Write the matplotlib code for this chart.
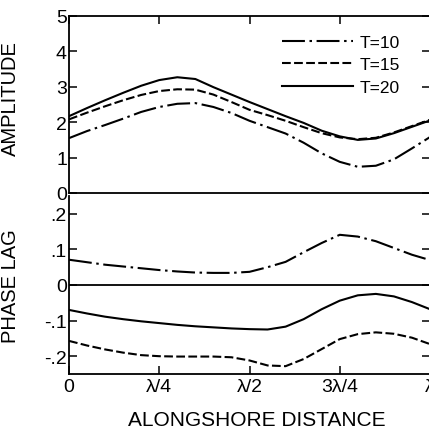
import numpy as np
import matplotlib
matplotlib.use("Agg")
import matplotlib.pyplot as plt

plt.rcParams['font.family'] = ['Liberation Sans', 'DejaVu Sans']

# alongshore position, fraction of one wavelength
x = [0.0, 0.05, 0.1, 0.15, 0.2, 0.25, 0.3, 0.35, 0.4, 0.45, 0.5,
     0.55, 0.6, 0.65, 0.7, 0.75, 0.8, 0.85, 0.9, 0.95, 1.0]

# amplitude
amp_t10 = [1.55, 1.75, 1.92, 2.10, 2.29, 2.43, 2.52, 2.54, 2.43, 2.26, 2.04,
           1.86, 1.68, 1.42, 1.12, 0.88, 0.74, 0.77, 0.95, 1.26, 1.58]
amp_t15 = [2.08, 2.27, 2.45, 2.62, 2.77, 2.88, 2.93, 2.92, 2.78, 2.57, 2.35,
           2.20, 2.04, 1.86, 1.69, 1.57, 1.52, 1.56, 1.71, 1.89, 2.07]
amp_t20 = [2.17, 2.40, 2.62, 2.83, 3.03, 3.19, 3.27, 3.22, 2.99, 2.78, 2.57,
           2.37, 2.17, 1.98, 1.76, 1.60, 1.50, 1.54, 1.69, 1.87, 2.05]

# phase lag
ph_t10 = [0.071, 0.064, 0.057, 0.052, 0.047, 0.042, 0.038, 0.035, 0.034, 0.034, 0.037,
          0.050, 0.065, 0.092, 0.118, 0.141, 0.136, 0.123, 0.104, 0.085, 0.070]
ph_t15 = [-0.157, -0.170, -0.181, -0.190, -0.197, -0.200, -0.201, -0.201, -0.201, -0.203, -0.212,
          -0.226, -0.228, -0.208, -0.180, -0.152, -0.138, -0.133, -0.137, -0.148, -0.166]
ph_t20 = [-0.070, -0.080, -0.089, -0.096, -0.102, -0.107, -0.112, -0.116, -0.119, -0.122, -0.124,
          -0.125, -0.117, -0.096, -0.068, -0.044, -0.029, -0.025, -0.032, -0.048, -0.068]

labels = ["T=10", "T=15", "T=20"]
xticks = [0, 0.25, 0.5, 0.75, 1.0]
xticklabels = ["0", "λ/4", "λ/2", "3λ/4", "λ"]
amp_ticks = [0, 1, 2, 3, 4, 5]
ph_ticks = [-0.2, -0.1, 0, 0.1, 0.2]
ph_ticklabels = ["-.2", "-.1", "0", ".1", ".2"]

styles = [(0, (11, 2.2, 1.2, 2.2)), (0, (4.2, 1.6)), "-"]
lw = 1.5
tick_fs = 14

fig = plt.figure(figsize=(4.29, 4.31), dpi=100)
left = 69 / 429
width = 361 / 429
ax1 = fig.add_axes([left, (431 - 194) / 431, width, 177 / 431])
ax2 = fig.add_axes([left, (431 - 375) / 431, width, 178 / 431])

for ax in (ax1, ax2):
    ax.set_xlim(0, 1)
    ax.set_xticks(xticks)
    ax.tick_params(direction="in", length=6, width=1.1,
                   top=True, right=True, pad=3)
    for s in ax.spines.values():
        s.set_linewidth(1.3)

for ys, st, lab in zip([amp_t10, amp_t15, amp_t20], styles, labels):
    ax1.plot(x, ys, color="black", lw=lw, linestyle=st, label=lab)
ax1.set_ylim(0, 5)
ax1.set_yticks(amp_ticks)
ax1.set_yticklabels([str(t) for t in amp_ticks], fontsize=tick_fs)
ax1.tick_params(axis="x", bottom=False, labelbottom=False)
ax1.tick_params(axis="y", pad=1.5)
ax1.set_ylabel("AMPLITUDE", fontsize=14.5)
ax1.yaxis.set_label_coords(-0.136, 0.54)
ax1.legend(loc="upper left", bbox_to_anchor=(0.59, 0.895), frameon=False,
           fontsize=12.5, handlelength=4.1, handletextpad=0.4,
           labelspacing=0.42, borderpad=0, borderaxespad=0)

for ys, st in zip([ph_t10, ph_t15, ph_t20], styles):
    ax2.plot(x, ys, color="black", lw=lw, linestyle=st)
ax2.axhline(0, color="black", lw=1.3)
ax2.set_ylim(-0.25, 0.25)
ax2.set_yticks(ph_ticks)
ax2.set_yticklabels(ph_ticklabels, fontsize=tick_fs)
ax2.spines["top"].set_visible(False)
ax2.tick_params(axis="x", top=False)
ax2.tick_params(axis="y", pad=1.5)
ax2.set_xticklabels(xticklabels, fontsize=tick_fs)
ax2.set_ylabel("PHASE LAG", fontsize=14.5)
ax2.yaxis.set_label_coords(-0.136, 0.5)
ax2.set_xlabel("ALONGSHORE DISTANCE", fontsize=15)
ax2.xaxis.set_label_coords(0.519, -0.2)

fig.savefig("out.png", dpi=100)
